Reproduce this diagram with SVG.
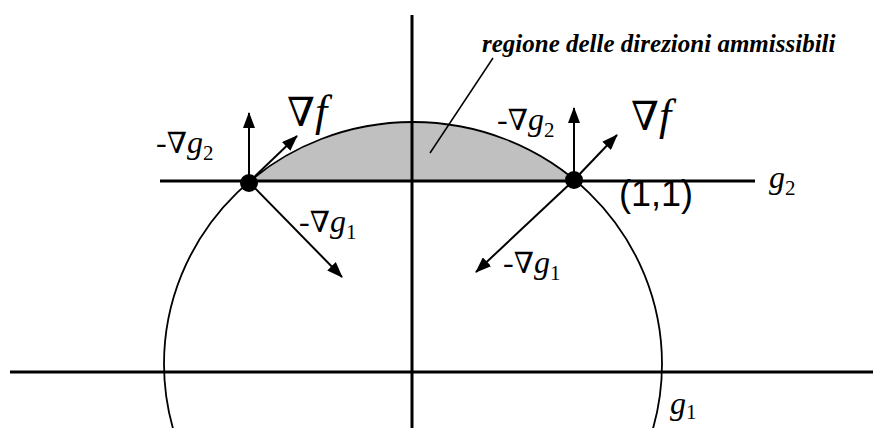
<svg xmlns="http://www.w3.org/2000/svg" width="873" height="428" viewBox="0 0 873 428">
<defs>
<style>
.ax{stroke:#000;stroke-width:3;fill:none}
.arr{stroke:#000;stroke-width:2;fill:none;marker-end:url(#ah)}
.lbl{font-family:"Liberation Serif","Times New Roman",serif;font-size:32px;fill:#000}
.big{font-family:"Liberation Serif","Times New Roman",serif;font-size:44px;fill:#000}
.it{font-style:italic}
.sub{font-size:21px}
.nab{font-family:"DejaVu Serif","Liberation Serif",serif;font-size:29px}
.nabL{font-family:"DejaVu Serif","Liberation Serif",serif;font-size:40px}
</style>
<marker id="ah" viewBox="0 0 16 12" refX="15" refY="6" markerWidth="16" markerHeight="12" markerUnits="userSpaceOnUse" orient="auto">
<path d="M0,0 L16,6 L0,12 Z" fill="#000"/>
</marker>
</defs>
<rect width="873" height="428" fill="#fff"/>
<g id="region">
<path d="M251,181 A249,242 0 0 1 575,181 Z" fill="#c0c0c0" stroke="none"/>
</g>
<g id="constraint-g1">
<ellipse cx="413" cy="364" rx="249" ry="242" fill="none" stroke="#000" stroke-width="1.8"/>
</g>
<g id="axes">
<line class="ax" x1="412" y1="15" x2="412" y2="428"/>
<line class="ax" x1="10" y1="372" x2="873" y2="372"/>
<line class="ax" x1="160" y1="181" x2="755" y2="181"/>
</g>
<g id="connectors">
<line class="arr" x1="249" y1="182" x2="249" y2="113"/>
<line class="arr" x1="249" y1="182" x2="297" y2="136"/>
<line class="arr" x1="249" y1="182" x2="342" y2="277"/>
<line class="arr" x1="574" y1="180" x2="574" y2="108"/>
<line class="arr" x1="574" y1="180" x2="617" y2="135"/>
<line class="arr" x1="574" y1="180" x2="476" y2="272"/>
<line x1="493" y1="58" x2="430" y2="153" stroke="#000" stroke-width="1.5"/>
</g>
<g id="point-left">
<circle cx="249" cy="183" r="9" fill="#000"/>
</g>
<g id="point-right">
<circle cx="574" cy="180" r="9" fill="#000"/>
</g>
<g id="labels">
<text class="lbl" x="156" y="153">-<tspan class="nab">∇</tspan><tspan class="it">g</tspan><tspan class="sub" dy="7">2</tspan></text>
<text class="big" x="287" y="126"><tspan class="nabL">∇</tspan><tspan class="it">f</tspan></text>
<text class="lbl" x="299" y="232">-<tspan class="nab">∇</tspan><tspan class="it">g</tspan><tspan class="sub" dy="7">1</tspan></text>
<text class="lbl" x="497" y="130">-<tspan class="nab">∇</tspan><tspan class="it">g</tspan><tspan class="sub" dy="7">2</tspan></text>
<text class="big" x="631" y="130"><tspan class="nabL">∇</tspan><tspan class="it">f</tspan></text>
<text class="lbl" x="503" y="273">-<tspan class="nab">∇</tspan><tspan class="it">g</tspan><tspan class="sub" dy="7">1</tspan></text>
<text x="619" y="206" font-family="'Liberation Sans',Arial,sans-serif" font-size="36px">(1,1)</text>
<text class="lbl it" x="769" y="188">g<tspan class="sub" dy="7" font-style="normal">2</tspan></text>
<text class="lbl it" x="670" y="414">g<tspan class="sub" dy="5" font-style="normal">1</tspan></text>
<text x="482" y="52" font-family="'Liberation Serif','Times New Roman',serif" font-size="25px" font-weight="bold" font-style="italic">regione delle direzioni ammissibili</text>
</g>
</svg>
